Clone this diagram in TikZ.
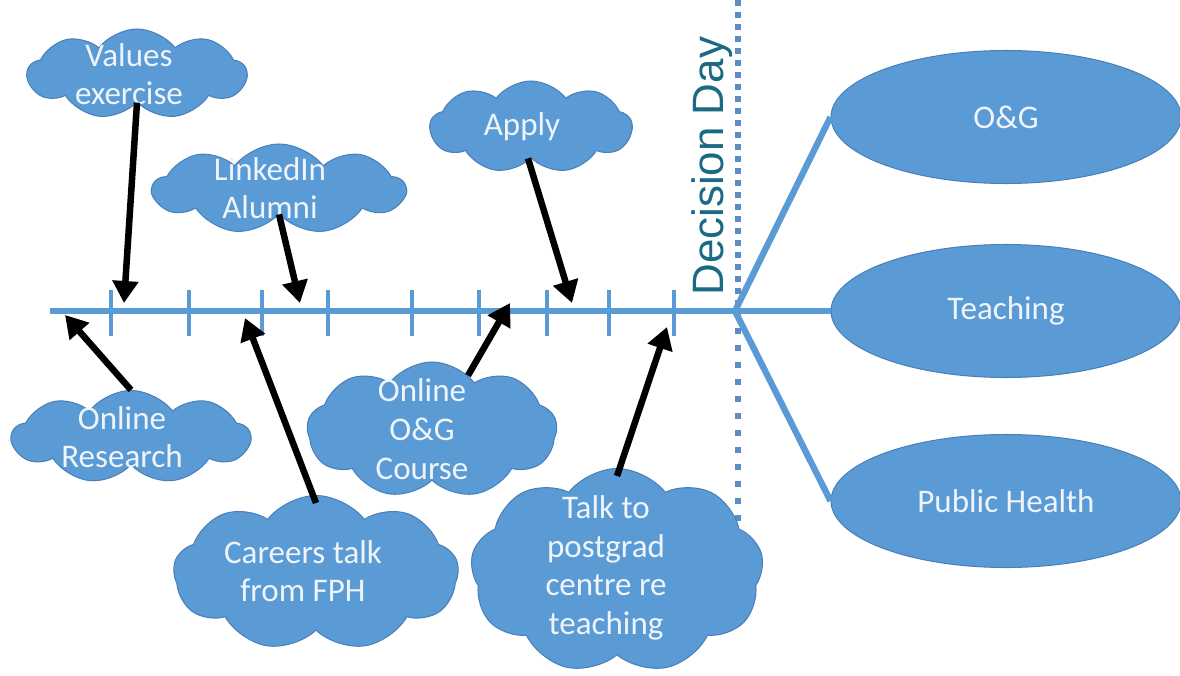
\documentclass[tikz,border=0pt]{standalone}
\usepackage{fontspec}
\setmainfont{Carlito}
\newfontfamily\arialf{Liberation Sans}
\usetikzlibrary{shapes.symbols,shapes.geometric,arrows.meta,calc}
\definecolor{cfill}{HTML}{5B9BD5}
\definecolor{cedge}{HTML}{4A80BA}
\definecolor{ctext}{HTML}{EEF4FA}
\definecolor{cline}{HTML}{5B9BD5}
\definecolor{cdot}{HTML}{5B8DC3}
\definecolor{cdd}{HTML}{1B6A85}
\begin{document}
\begin{tikzpicture}[x=0.02cm,y=-0.02cm,
 cloudbox/.style={cloud, cloud puffs=9, cloud puff arc=105, cloud ignores aspect, fill=cfill, draw=cedge, line width=0.6pt, inner sep=0pt},
 ctxt/.style={text=ctext, align=center, inner sep=0pt, font=\fontsize{18.8}{22}\selectfont},
 oval/.style={ellipse, fill=cfill, draw=cedge, line width=0.6pt, minimum width=7cm, minimum height=2.66cm, inner sep=0pt, text=ctext, font=\fontsize{18.8}{22}\selectfont},
 ptr/.style={line width=3.7pt, -{Triangle[length=0.44cm,width=0.5cm]}},
 tl/.style={cline, line width=3.6pt},
 tickmark/.style={cline, line width=2.7pt},
 dots/.style={cdot, line width=3.4pt}
]
\useasboundingbox (0,0) rectangle (1180,676);

% decision day dotted line
\coordinate (ddTop) at (738,0);
\coordinate (ddMid) at (738,311);
\coordinate (ddBot) at (738,625);
\draw[dots, dash pattern=on 0.13cm off 0.11cm] (ddTop) -- (ddMid);
\draw[dots, dash pattern=on 0.13cm off 0.21cm] (ddMid) -- (ddBot);
\node[rotate=90, anchor=base west, inner sep=0pt, text=cdd, font=\arialf\fontsize{25}{30}\selectfont] (dday) at (723,296) {Decision Day};

% outcome ellipses
\node[oval] (og) at (1006,117) {O\&G};
\node[oval] (teach) at (1006,311) {Teaching};
\node[oval] (ph) at (1006,501) {Public Health};

% timeline
\coordinate (tlstart) at (50,311);
\coordinate (fork) at (735,311);
\draw[tl] (tlstart) -- (teach.west);
\draw[tl] (fork) -- (og.west);
\draw[tl] (fork) -- (ph.west);
\foreach \x in {111,189,262,328,412,479,547,609,674}
  \draw[tickmark] (\x,290) -- (\x,336);

% clouds
\node[cloudbox, minimum width=4.38cm, minimum height=1.8cm] (vals) at (137,74) {};
\node[cloudbox, minimum width=5.04cm, minimum height=1.8cm] (link) at (279,189) {};
\node[cloudbox, minimum width=4.04cm, minimum height=1.84cm] (apply) at (531,127) {};
\node[cloudbox, minimum width=4.76cm, minimum height=1.86cm] (ores) at (131,437) {};
\node[cloudbox, minimum width=5.7cm, minimum height=3.1cm] (car) at (316,573) {};
\node[cloudbox, minimum width=5.0cm, minimum height=2.72cm] (oog) at (432,430) {};
\node[cloudbox, minimum width=5.86cm, minimum height=4.1cm] (talk) at (617,571) {};

\node[ctxt] (valsL) at (129,74) {Values\\exercise};
\node[ctxt] (linkL) at (270,188) {LinkedIn\\Alumni};
\node[ctxt] (applyL) at (522,127) {Apply};
\node[ctxt] (oresL) at (122,437) {Online\\Research};
\node[ctxt] (carL) at (303,571) {Careers talk\\from FPH};
\node[ctxt] (oogL) at (422,429) {Online\\O\&G\\Course};
\node[ctxt] (talkL) at (606,568) {Talk to\\postgrad\\centre re\\teaching};

% arrow tips on the timeline
\coordinate (tVals) at (124,303);
\coordinate (tLink) at (300,303);
\coordinate (tApply) at (572,303);
\coordinate (tOres) at (65,315);
\coordinate (tCar) at (245,318);
\coordinate (tOog) at (510,303);
\coordinate (tTalk) at (667,327);

\draw[ptr] (vals.south) -- (tVals);
\draw[ptr] (link.south) -- (tLink);
\draw[ptr] ([xshift=-0.06cm]apply.south) -- (tApply);
\draw[ptr] (ores.north) -- (tOres);
\draw[ptr] ([yshift=-0.16cm]car.north) -- (tCar);
\draw[ptr] ([xshift=0.72cm,yshift=-0.28cm]oog.north) -- (tOog);
\draw[ptr] ([yshift=-0.16cm]talk.north) -- (tTalk);
\end{tikzpicture}
\end{document}
